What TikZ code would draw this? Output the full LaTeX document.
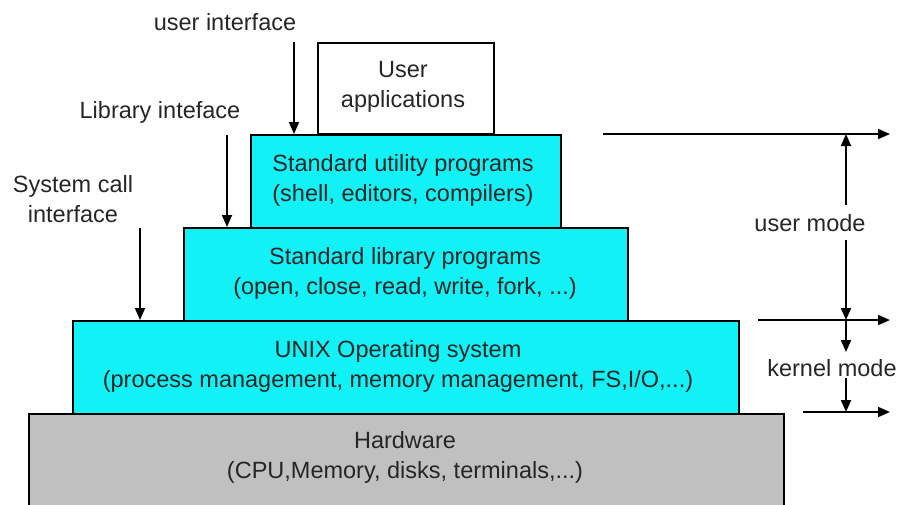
\documentclass[tikz,border=0pt]{standalone}
\usepackage{fontspec}
\setmainfont{Liberation Sans}
\usetikzlibrary{arrows.meta}
\definecolor{layercyan}{RGB}{18,242,246}
\definecolor{hwgray}{RGB}{192,192,192}
\begin{document}
\begin{tikzpicture}[x=1pt,y=-1pt,
  layer/.style={draw=black,line width=1.8pt,fill=layercyan,inner sep=0pt,anchor=north west},
  txt/.style={font=\fontsize{23.5}{30}\selectfont,align=center,inner sep=0pt,text=black!85},
  arr/.style={line width=1.8pt,-{Triangle[length=12pt,width=10pt]}}]
\useasboundingbox (0,0) rectangle (899,504);
% boxes
\node[layer,fill=white,minimum width=176pt,minimum height=91pt] (ua) at (317,42) {};
\node[layer,fill=hwgray,minimum width=755pt,minimum height=100pt] (hw) at (28,413) {};
\node[layer,minimum width=666pt,minimum height=93pt] (os) at (72,320) {};
\node[layer,minimum width=444pt,minimum height=93pt] (sl) at (183,227) {};
\node[layer,minimum width=310pt,minimum height=93pt] (su) at (250,134) {};
% texts
\node[txt] (uat) at (403,87) {User\\applications};
\node[txt] (sut) at (403,180) {Standard utility programs\\(shell, editors, compilers)};
\node[txt] (slt) at (405,273) {Standard library programs\\(open, close, read, write, fork, ...)};
\node[txt] (ost) at (398,366) {UNIX Operating system\\(process management, memory management, FS,I/O,...)};
\node[txt] (hwt) at (405,457) {Hardware\\(CPU,Memory, disks, terminals,...)};
% left labels
\node[txt] (ui) at (225,22) {user interface};
\node[txt] (li) at (160,112) {Library inteface};
\node[txt] (sc) at (73,199) {System call\\interface};
\coordinate (uis) at (294,42);
\coordinate (lis) at (227,135);
\coordinate (scs) at (140,228);
\draw[arr] (uis) -- (uis |- su.north);
\draw[arr] (lis) -- (lis |- sl.north);
\draw[arr] (scs) -- (scs |- os.north);
% right side
\coordinate (h1a) at (603,134);
\coordinate (h1b) at (890,134);
\coordinate (h2a) at (758,320);
\coordinate (h2b) at (890,320);
\coordinate (h3a) at (803,412);
\coordinate (h3b) at (890,412);
\draw[arr] (h1a) -- (h1b);
\draw[arr] (h2a) -- (h2b);
\draw[arr] (h3a) -- (h3b);
\node[txt] (um) at (810,223) {user mode};
\node[txt] (km) at (832,368) {kernel mode};
\coordinate (v1) at (846,134);
\coordinate (v2) at (846,320);
\coordinate (v3) at (846,412);
\draw[arr] (846,205) -- (v1);
\draw[arr] (846,240) -- (v2);
\draw[arr] (v2) -- (846,352);
\draw[arr] (846,378) -- (v3);
\end{tikzpicture}
\end{document}
